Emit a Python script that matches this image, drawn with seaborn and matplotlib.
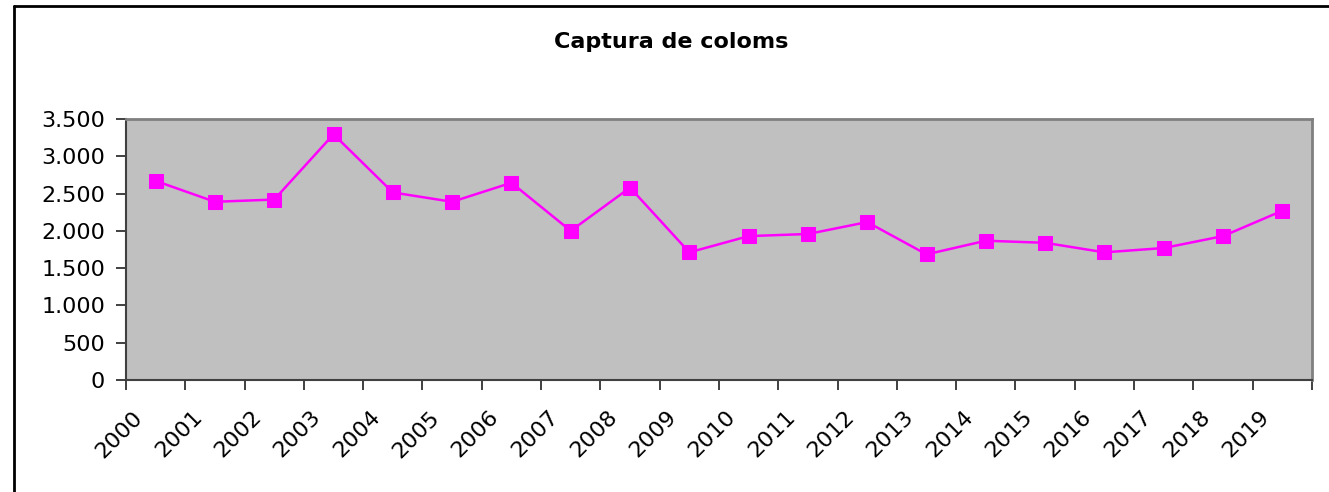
#!/usr/bin/env python3
import numpy as np
import pandas as pd
import seaborn as sns
import matplotlib.pyplot as plt
from matplotlib.ticker import FixedLocator, FuncFormatter
from matplotlib.transforms import ScaledTranslation
from matplotlib.lines import Line2D

# data
years = [str(y) for y in range(2000, 2020)]
captura = [2670, 2390, 2420, 3295, 2515, 2390, 2645, 2000, 2580, 1712,
           1930, 1958, 2118, 1685, 1868, 1840, 1712, 1770, 1930, 2270]
title = 'Captura de coloms'


def main(out_file='out.png'):
    df = pd.DataFrame({'pos': np.arange(len(years)), 'year': years, 'value': captura})

    sns.set_theme(style='white')
    plt.rcParams['font.family'] = ['DejaVu Sans']
    plt.rcParams['text.color'] = 'black'
    plt.rcParams['xtick.color'] = 'black'
    plt.rcParams['ytick.color'] = 'black'

    fig = plt.figure(figsize=(13.29, 4.92), dpi=100, facecolor='white')
    ax = fig.add_axes([0.0948, 0.2276, 0.8924, 0.5305])
    ax.set_facecolor('#C0C0C0')

    sns.lineplot(data=df, x='pos', y='value', ax=ax, color='#FF00FF',
                 linewidth=1.8, marker='s', markersize=9.5,
                 markeredgecolor='#FF00FF', markerfacecolor='#FF00FF')

    ax.set_xlim(-0.5, len(years) - 0.5)
    ax.set_ylim(0, 3500)
    ax.set_yticks(np.arange(0, 3501, 500))
    ax.yaxis.set_major_formatter(FuncFormatter(lambda v, p: f"{int(v):,}".replace(',', '.')))

    # ticks between categories, labels at the category centres
    ax.xaxis.set_major_locator(FixedLocator(np.arange(-0.5, len(years), 1.0)))
    ax.xaxis.set_minor_locator(FixedLocator(np.arange(len(years))))
    ax.set_xticklabels([])
    ax.set_xticklabels(years, minor=True, rotation=45, ha='center', va='center',
                       rotation_mode='anchor', fontsize=16)
    ax.tick_params(axis='x', which='major', direction='out', length=7,
                   width=1.2, color='#202020', bottom=True)
    ax.tick_params(axis='x', which='minor', length=0, pad=39)
    ax.tick_params(axis='y', direction='out', length=7, width=1.2,
                   color='#202020', left=True, labelsize=16, pad=8)

    # shift the slanted labels left, like Excel does
    shift = ScaledTranslation(-0.36, 0, fig.dpi_scale_trans)
    for lab in ax.xaxis.get_minorticklabels():
        lab.set_transform(lab.get_transform() + shift)

    ax.set_xlabel('')
    ax.set_ylabel('')

    for side in ['top', 'right']:
        ax.spines[side].set_color('#808080')
        ax.spines[side].set_linewidth(2)
    for side in ['left', 'bottom']:
        ax.spines[side].set_color('#404040')
        ax.spines[side].set_linewidth(1.5)

    fig.text(0.505, 0.915, title, ha='center', va='center',
             fontsize=16, fontweight='bold')

    # chart frame (top and left edges visible)
    fig.add_artist(Line2D([14 / 1329, 1.0], [1 - 6 / 492, 1 - 6 / 492],
                          transform=fig.transFigure, color='black', linewidth=2))
    fig.add_artist(Line2D([14 / 1329, 14 / 1329], [0.0, 1 - 6 / 492],
                          transform=fig.transFigure, color='black', linewidth=2))

    fig.savefig(out_file, dpi=100, facecolor='white')


if __name__ == '__main__':
    main()
